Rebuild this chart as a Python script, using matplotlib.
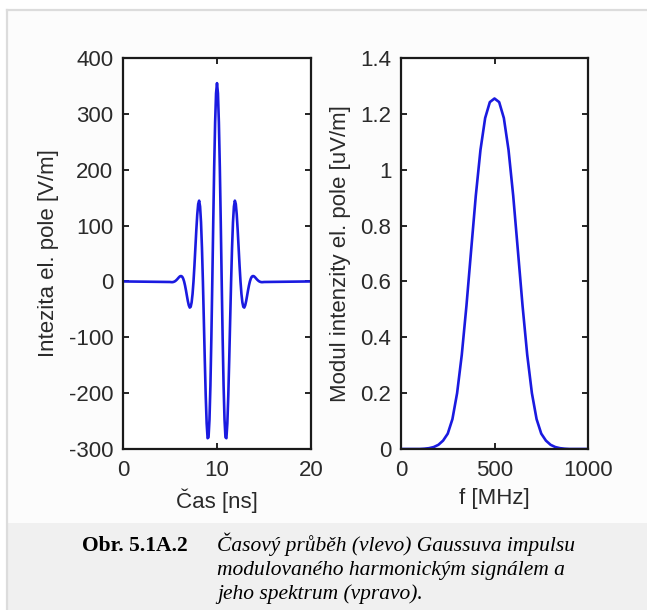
import numpy as np
import matplotlib
matplotlib.use("Agg")
import matplotlib.pyplot as plt
from matplotlib.patches import Rectangle

plt.rcParams["axes.unicode_minus"] = False

# time domain: Gaussian pulse modulated by harmonic signal
t_ns = np.round(np.arange(5.0, 15.05, 0.1), 1)
E_vm = [-1, -1.2, -1.3, -1.2, -0.7, 0, 1.2, 2.7, 4.5, 6.5, 8.3, 9.5, 9.6, 8.4, 5.2,
        0, -7.3, -16.1, -25.9, -35.3, -42.8, -46.8, -45.5, -37.6, -22.4,
        0, 28.3, 60.2, 92.1, 119.8, 138.7, 144.6, 134.1, 105.8, 60.1,
        0, -69.2, -140.3, -204.8, -254.1, -280.7, -279.1, -247.1, -186.0, -100.8,
        0, 105.6, 204.3, 284.5, 336.8, 355,
        336.8, 284.5, 204.3, 105.6, 0,
        -100.8, -186.0, -247.1, -279.1, -280.7, -254.1, -204.8, -140.3, -69.2, 0,
        60.1, 105.8, 134.1, 144.6, 138.7, 119.8, 92.1, 60.2, 28.3, 0,
        -22.4, -37.6, -45.5, -46.8, -42.8, -35.3, -25.9, -16.1, -7.3, 0,
        5.2, 8.4, 9.6, 9.5, 8.3, 6.5, 4.5, 2.7, 1.2, 0, -0.7, -1.2, -1.3, -1.2, -1]
t_full = np.concatenate([[0.0], t_ns, [20.0]])
E_full = np.concatenate([[0.0], E_vm, [0.0]])

# spectrum magnitude, 0..1000 MHz every 25 MHz
f_mhz = np.arange(0, 1001, 25)
S_uvm = [0, 0, 0, 0, 0.001, 0.003, 0.007, 0.015, 0.030, 0.055, 0.107, 0.200,
         0.337, 0.513, 0.711, 0.907, 1.071, 1.185, 1.242, 1.255,
         1.242, 1.185, 1.071, 0.907, 0.711, 0.513, 0.337, 0.200, 0.107, 0.055,
         0.030, 0.015, 0.007, 0.003, 0.001, 0, 0, 0, 0, 0, 0]
# shift so the peak sits at 500 MHz (index 20)
S_uvm = [0] + S_uvm[:-1]

W, H = 647, 610
fig = plt.figure(figsize=(W / 100, H / 100), dpi=100)
fig.patch.set_facecolor("white")

def fx(px):
    return px / W

def fy(py):
    return 1 - py / H

# page frame and caption band, drawn on a background axes in pixel coords
bg = fig.add_axes([0, 0, 1, 1], zorder=-10)
bg.set_xlim(0, W)
bg.set_ylim(H, 0)
bg.axis("off")
bg.add_patch(Rectangle((8, 11), W, H, facecolor="#fcfcfc", edgecolor="none"))
bg.add_patch(Rectangle((8, 523), W, H, facecolor="#f0f0f0", edgecolor="none"))
bg.plot([7, 7], [10, H], color="#dcdcdc", lw=1.6)
bg.plot([7, W], [10, 10], color="#dcdcdc", lw=1.6)

fs = 16
font = "Liberation Sans"
txtcol = "#2a2a2a"
blue = "#1a1ae0"

ax1 = fig.add_axes([fx(123), fy(449), fx(311) - fx(123), fy(58) - fy(449)])
ax2 = fig.add_axes([fx(401), fy(449), fx(588) - fx(401), fy(58) - fy(449)])

ax1.plot(t_full, E_full, color=blue, lw=1.9)
ax1.set_xlim(0, 20)
ax1.set_ylim(-300, 400)
ax1.set_xticks([0, 10, 20])
ax1.set_yticks(np.arange(-300, 401, 100))
ax1.set_xlabel("Čas [ns]", fontsize=fs, family=font, color=txtcol, labelpad=5)
ax1.set_ylabel("Intezita el. pole [V/m]", fontsize=fs, family=font, color=txtcol,
               labelpad=7)

ax2.plot(f_mhz, S_uvm, color=blue, lw=1.9)
ax2.set_xlim(0, 1000)
ax2.set_ylim(0, 1.4)
ax2.set_xticks([0, 500, 1000])
ax2.set_yticks([0, 0.2, 0.4, 0.6, 0.8, 1.0, 1.2, 1.4])
ax2.set_yticklabels(["0", "0.2", "0.4", "0.6", "0.8", "1", "1.2", "1.4"])
ax2.set_xlabel("f [MHz]", fontsize=fs, family=font, color=txtcol, labelpad=5)
ax2.set_ylabel("Modul intenzity el. pole [uV/m]", fontsize=fs, family=font,
               color=txtcol, labelpad=7)

for ax in (ax1, ax2):
    ax.set_facecolor("white")
    ax.tick_params(direction="in", length=4, width=1.2, top=True, right=True,
                   labelsize=fs, labelcolor=txtcol)
    ax.tick_params(axis="x", pad=8)
    ax.tick_params(axis="y", pad=7)
    for lab in ax.get_xticklabels() + ax.get_yticklabels():
        lab.set_family(font)
    for s in ax.spines.values():
        s.set_linewidth(1.6)
        s.set_color("#1a1a1a")

# caption
cap_fs = 15.5
fig.text(fx(82), fy(551), "Obr. 5.1A.2", family="Liberation Serif", weight="bold",
         fontsize=cap_fs, va="baseline", ha="left", color="black")
lines = ["Časový průběh (vlevo) Gaussuva impulsu",
         "modulovaného harmonickým signálem a",
         "jeho spektrum (vpravo)."]
for i, ln in enumerate(lines):
    fig.text(fx(217), fy(551 + 24 * i), ln, family="Liberation Serif", style="italic",
             fontsize=cap_fs, va="baseline", ha="left", color="black")

fig.savefig("out.png", dpi=100, facecolor=fig.get_facecolor())
